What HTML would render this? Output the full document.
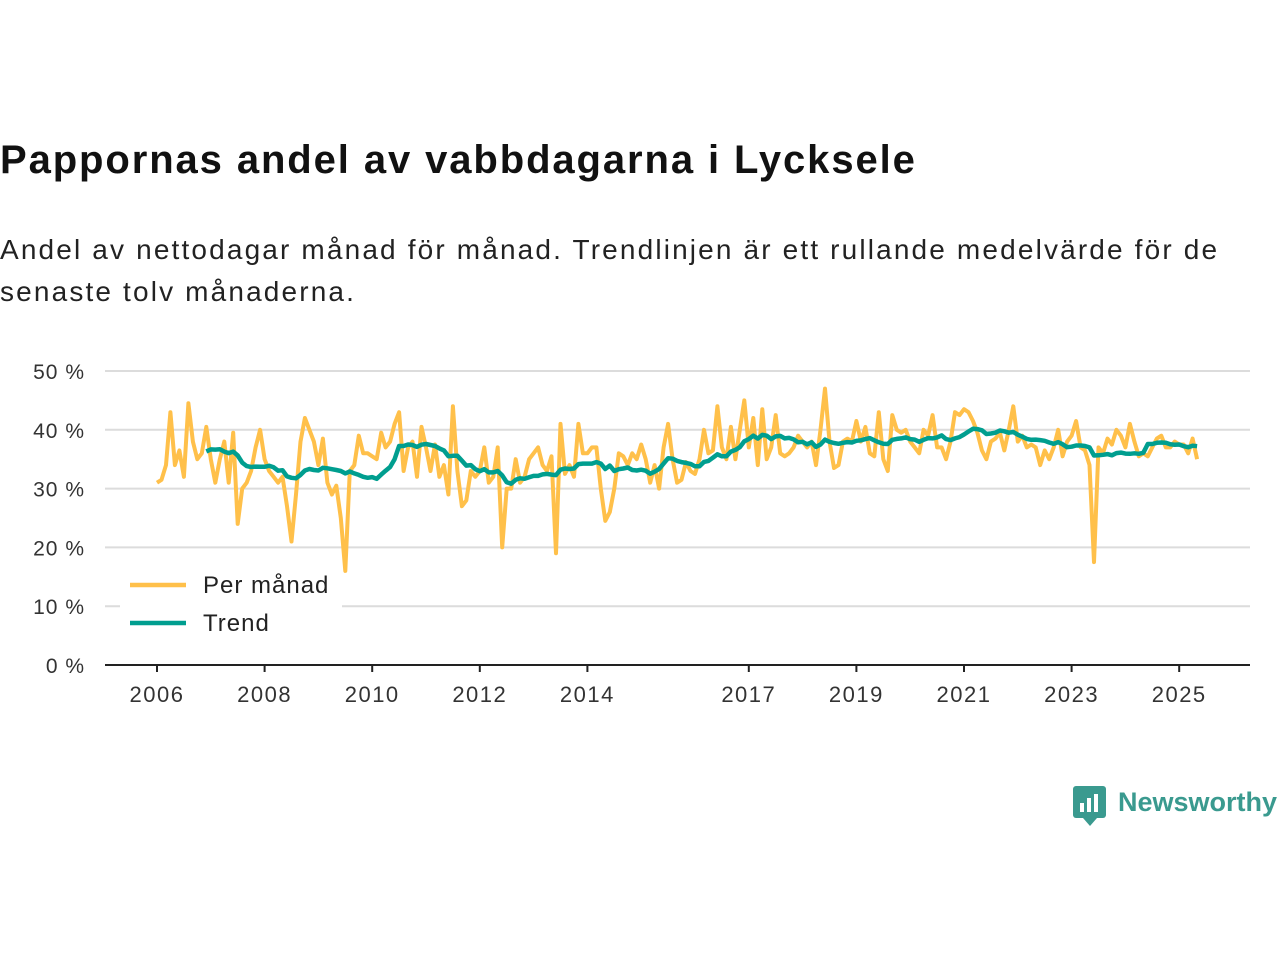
<!DOCTYPE html>
<html><head><meta charset="utf-8"><style>
body{margin:0;width:1280px;height:960px;background:#fff;font-family:"Liberation Sans",sans-serif;overflow:hidden;position:relative}
.t{position:absolute;left:0;top:138px;font-size:40px;font-weight:bold;color:#111;letter-spacing:1.9px;white-space:nowrap}
.s{position:absolute;left:0;top:229px;font-size:28px;line-height:42px;color:#222;letter-spacing:2.15px;white-space:nowrap}
</style></head><body>
<div class="t">Pappornas andel av vabbdagarna i Lycksele</div>
<div class="s">Andel av nettodagar månad för månad. Trendlinjen är ett rullande medelvärde för de<br>senaste tolv månaderna.</div>
<svg id="c" width="1280" height="960" style="position:absolute;left:0;top:0"></svg>
<div style="position:absolute;left:1073px;top:786px;">
<svg width="34" height="42"><rect x="0" y="0" width="33" height="32" rx="3" fill="#3a9a8f"/><polygon points="10,32 24,32 17,40" fill="#3a9a8f"/><rect x="7" y="17" width="4" height="9" fill="#fff"/><rect x="14" y="12" width="4" height="14" fill="#fff"/><rect x="21" y="8" width="4" height="18" fill="#fff"/></svg>
<span style="position:absolute;left:45px;top:1px;font-size:27px;font-weight:bold;color:#3a9a8f;white-space:nowrap">Newsworthy</span></div>
<script>
const monthly = [
31,31.5,34,43,34,36.5,32,44.5,38,35,36,40.5,
35,31,35,38,31,39.5,24,30,31,33,37,40,
35,33,32,31,32,27,21,29,38,42,40,38,
34,38.5,31,29,30.5,25,16,33,34,39,36,36,
35.5,35,39.5,37,38,41,43,33,37,38,32,40.5,
37,33,37.5,32,34,29,44,33,27,28,33,32,
33,37,31,32,37,20,30,30,35,31,32,35,
36,37,34,33,35.5,19,41,32.5,34,32,41,36,
36,37,37,30,24.5,26,30,36,35.5,34,36,35,
37.5,35,31,34,30,37,41,35,31,31.5,34.5,33,
32.5,35,40,36,36.5,44,37,35,40.5,35,40,45,
37,42,34,43.5,35,37,42.5,36,35.5,36,37,39,
38,37,38,34,40,47,38,33.5,34,38,38.5,38,
41.5,38,40.5,36,35.5,43,35,33,42.5,40,39.5,40,
38,37,36,40,39,42.5,37,37,35,38,43,42.5,
43.5,43,41.5,39.5,36.5,35,38,38.5,39.5,36.5,40,44,
38,39,37,37.5,37,34,36.5,35,37,40,35.5,38,
39,41.5,37,36.5,34,17.5,37,36,38.5,37.5,40,39,
37,41,38,35.5,36,35.5,37,38.5,39,37,37,38,
37.5,37.5,36,38.5,35];
const startYear = 2006;
const yTicks = [0,10,20,30,40,50];
const xTickYears = [2006,2008,2010,2012,2014,2017,2019,2021,2023,2025];
const NS="http://www.w3.org/2000/svg",svg=document.getElementById('c');
const xs=t=>157+(t-2006)*53.8, ys=v=>665-v*5.88;
function el(n,a,p){const e=document.createElementNS(NS,n);for(const k in a)e.setAttribute(k,a[k]);(p||svg).appendChild(e);return e;}
yTicks.forEach(v=>{
 if(v>0){const g=el('line',{x1:105,x2:1250,y1:ys(v),y2:ys(v),stroke:'#dcdcdc','stroke-width':2});
 
 }
 const t=el('text',{x:85,y:ys(v)+8,'text-anchor':'end','font-size':21,'letter-spacing':1,fill:'#333'});t.textContent=v+' %';
 
 
});
const ax=el('line',{x1:105,x2:1250,y1:665,y2:665,stroke:'#222','stroke-width':2});


xTickYears.forEach(y=>{
 el('line',{x1:xs(y),x2:xs(y),y1:665,y2:672,stroke:'#222','stroke-width':2});
 const t=el('text',{x:xs(y),y:702,'text-anchor':'middle','font-size':22,'letter-spacing':1.5,fill:'#333'});t.textContent=y;
 
 
});
const tx=i=>xs(startYear+i/12);
const mp=monthly.map((v,i)=>tx(i).toFixed(1)+','+ys(v).toFixed(1)).join(' ');
const ml=el('polyline',{points:mp,fill:'none',stroke:'#ffc04a','stroke-width':4,'stroke-linejoin':'round'});


const tp=[];
for(let i=11;i<monthly.length;i++){let s=0;for(let j=i-11;j<=i;j++)s+=monthly[j];tp.push(tx(i).toFixed(1)+','+ys(s/12).toFixed(1));}
const tl=el('polyline',{points:tp.join(' '),fill:'none',stroke:'#009e8f','stroke-width':4.5,'stroke-linejoin':'round'});


const lb=el('rect',{x:120,y:566,width:222,height:76,fill:'#fff'});


[['Per månad','#ffc04a',585],['Trend','#009e8f',623]].forEach(([n,c,y])=>{
 el('line',{x1:130,x2:186,y1:y,y2:y,stroke:c,'stroke-width':4.5});
 const t=el('text',{x:203,y:y+8,'font-size':24,'letter-spacing':1,fill:'#222'});t.textContent=n;
 
 
});
</script>
</body></html>
